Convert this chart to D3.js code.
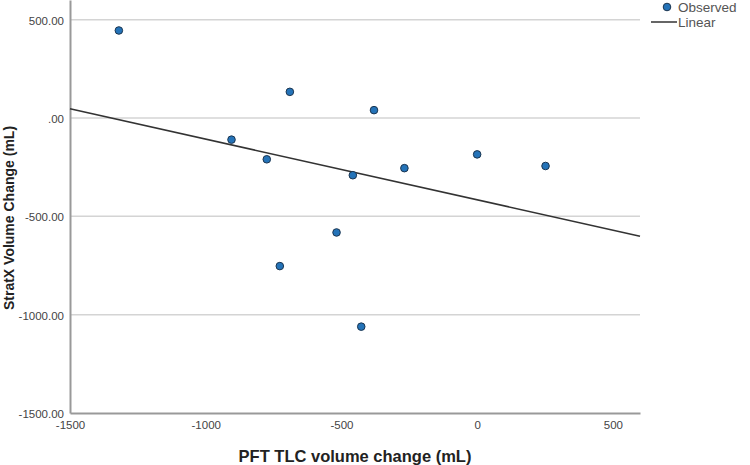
<!DOCTYPE html>
<html>
<head>
<meta charset="utf-8">
<script src="https://cdn.jsdelivr.net/npm/d3@7"></script>
<style>
  body { margin: 0; background: #fff; }
  text { font-family: Arial, "Liberation Sans", sans-serif; }
</style>
</head>
<body>
<svg id="chart" width="750" height="465"></svg>
<script>
// observed points
var tlcChange = [-1320, -690, -380, -905, -775, -458, -268, -518, -727, 0, 252, -427];
var stratxChange = [445, 133, 40, -110, -210, -291, -255, -582, -753, -185, -244, -1061];

var xTicks = [-1500, -1000, -500, 0, 500];
var xTickLabels = ["-1500", "-1000", "-500", "0", "500"];
var yTicks = [500, 0, -500, -1000, -1500];
var yTickLabels = ["500.00", ".00", "-500.00", "-1000.00", "-1500.00"];

var W = 750, H = 465;
var m = { left: 70, right: 110, top: 0, bottom: 52 };

var svg = d3.select("#chart");

var x = d3.scaleLinear().domain([-1500, 600]).range([m.left, W - m.right]);
var y = d3.scaleLinear().domain([-1500, 600]).range([H - m.bottom, m.top]);

// horizontal grid lines
svg.append("g")
  .selectAll("line")
  .data(yTicks.slice(0, 4))
  .enter().append("line")
  .attr("x1", m.left).attr("x2", W - m.right)
  .attr("y1", function(d) { return y(d); })
  .attr("y2", function(d) { return y(d); })
  .style("stroke", "#d4d4d4")
  .style("stroke-width", 1.5);

// axes
var xAxis = svg.append("g")
  .attr("transform", "translate(0," + (H - m.bottom) + ")")
  .call(d3.axisBottom(x).tickValues(xTicks).tickSize(0).tickPadding(6)
    .tickFormat(function(d, i) { return xTickLabels[i]; }));
var yAxis = svg.append("g")
  .attr("transform", "translate(" + m.left + ",0)")
  .call(d3.axisLeft(y).tickValues(yTicks).tickSize(0).tickPadding(6)
    .tickFormat(function(d, i) { return yTickLabels[i]; }));

[xAxis, yAxis].forEach(function(a) {
  a.select(".domain").style("stroke", "#999").style("stroke-width", 2);
  a.selectAll("text").style("font-size", "11.5px").style("fill", "#444");
});
xAxis.selectAll("text").attr("dy", "0.9em");
yAxis.selectAll("text").attr("dy", "0.4em");

// linear fit computed from the observed points
var mx = d3.mean(tlcChange), my = d3.mean(stratxChange);
var sxy = 0, sxx = 0;
for (var i = 0; i < tlcChange.length; i++) {
  sxy += (tlcChange[i] - mx) * (stratxChange[i] - my);
  sxx += (tlcChange[i] - mx) * (tlcChange[i] - mx);
}
var slope = sxy / sxx, intercept = my - slope * mx;
var xd = x.domain();

svg.append("line")
  .attr("x1", x(xd[0])).attr("y1", y(intercept + slope * xd[0]))
  .attr("x2", x(xd[1])).attr("y2", y(intercept + slope * xd[1]))
  .style("stroke", "#333")
  .style("stroke-width", 1.5);

// points
svg.append("g")
  .selectAll("circle")
  .data(tlcChange)
  .enter().append("circle")
  .attr("cx", function(d) { return x(d); })
  .attr("cy", function(d, i) { return y(stratxChange[i]); })
  .attr("r", 3.8)
  .style("fill", "#2473b8")
  .style("stroke", "#1b3550")
  .style("stroke-width", 1);

// axis titles
svg.append("text")
  .text("PFT TLC volume change (mL)")
  .attr("x", (m.left + W - m.right) / 2)
  .attr("y", 456)
  .attr("dy", "0.35em")
  .attr("text-anchor", "middle")
  .style("font-size", "16.5px")
  .style("font-weight", "bold")
  .style("fill", "#222");

svg.append("text")
  .text("StratX Volume Change (mL)")
  .attr("text-anchor", "middle")
  .attr("transform", "translate(9," + 218 + ") rotate(-90)")
  .attr("dy", "0.35em")
  .style("font-size", "14px")
  .style("font-weight", "bold")
  .style("fill", "#222");

// legend
var lg = svg.append("g");
lg.append("circle")
  .attr("cx", 667).attr("cy", 7).attr("r", 3.8)
  .style("fill", "#2473b8").style("stroke", "#1b3550");
lg.append("text").text("Observed")
  .attr("x", 678).attr("y", 7).attr("dy", "0.35em")
  .style("font-size", "13.5px").style("fill", "#555");
lg.append("line")
  .attr("x1", 651).attr("x2", 677).attr("y1", 22).attr("y2", 22)
  .style("stroke", "#333").style("stroke-width", 1.5);
lg.append("text").text("Linear")
  .attr("x", 678).attr("y", 22).attr("dy", "0.35em")
  .style("font-size", "13.5px").style("fill", "#555");
</script>
</body>
</html>
